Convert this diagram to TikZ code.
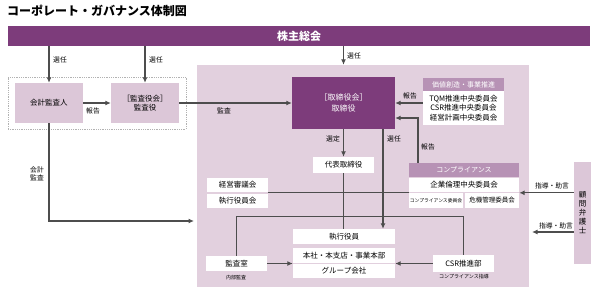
\documentclass[tikz,border=0pt]{standalone}
\usepackage{fontspec}
\usetikzlibrary{arrows.meta}
\setmainfont{Noto Sans CJK JP}
\definecolor{kabu}{RGB}{125,60,123}
\definecolor{usupl}{RGB}{226,208,222}
\definecolor{boxpl}{RGB}{220,199,216}
\definecolor{midpl}{RGB}{183,146,181}
\definecolor{yagi}{RGB}{77,77,77}
\begin{document}
\begin{tikzpicture}[x=1pt,y=-1pt]
	\tikzset{>={Latex[length=5.5pt,width=5pt]}}
	\tikzset{
		pbox/.style={fill=boxpl,inner sep=0pt,align=center,font=\fontsize{7.5}{9.5}\selectfont},
		wbox/.style={fill=white,inner sep=0pt,align=center,font=\fontsize{7.5}{9.5}\selectfont},
		hbox/.style={fill=midpl,inner sep=0pt,text=white,font=\fontsize{7}{8}\selectfont},
		dbox/.style={fill=kabu,inner sep=0pt,align=center,text=white,font=\fontsize{8}{10.5}\selectfont},
		lbl/.style={inner sep=0pt,font=\fontsize{6.8}{8.5}\selectfont,align=center},
		tiny/.style={inner sep=0pt,font=\fontsize{5}{6}\selectfont},
		arr/.style={->,draw=yagi,line width=1.1pt},
		ln/.style={draw=yagi,line width=1pt}
	}
	\useasboundingbox (0,0) rectangle (600,298);
	
	\node[anchor=west,inner sep=0pt,font=\bfseries\fontsize{12}{13}\selectfont] (title) at (7,11) {コーポレート・ガバナンス体制図};
	\node[fill=kabu,minimum width=582,minimum height=20,inner sep=0pt,text=white,font=\bfseries\fontsize{11}{12}\selectfont] (soukai) at (299,36) {株主総会};
	
	\node[fill=usupl,minimum width=332,minimum height=222,inner sep=0pt] (area) at (363,176) {};
	\node[draw=gray!60,densely dotted,line width=0.8pt,minimum width=178,minimum height=52,inner sep=0pt] (audit) at (97,103) {};
	
	\node[pbox,minimum width=68,minimum height=40] (kaikei) at (49,103) {会計監査人};
	\node[pbox,minimum width=68,minimum height=40] (kansa) at (145,103) {［監査役会］\\監査役};
	\node[dbox,minimum width=103,minimum height=52] (tori) at (343.5,103) {［取締役会］\\取締役};
	
	\node[hbox,minimum width=81,minimum height=13] (kachihead) at (463.5,84.5) {価値創造・事業推進};
	\node[wbox,minimum width=81,minimum height=34] (kachi) at (463.5,108) {TQM推進中央委員会\\CSR推進中央委員会\\経営計画中央委員会};
	
	\node[wbox,minimum width=61,minimum height=16] (daihyo) at (343.5,165) {代表取締役};
	\node[hbox,minimum width=110,minimum height=14] (comphead) at (464,170) {コンプライアンス};
	\node[wbox,minimum width=110,minimum height=14] (kigyo) at (464,185) {企業倫理中央委員会};
	\node[wbox,minimum width=54,minimum height=15,font=\fontsize{4.8}{6}\selectfont] (compiin) at (436,200.5) {コンプライアンス委員会};
	\node[wbox,minimum width=54,minimum height=15,font=\fontsize{6.5}{8}\selectfont] (kiki) at (492,200.5) {危機管理委員会};
	
	\node[wbox,minimum width=61,minimum height=14] (keiei) at (237.5,185) {経営審議会};
	\node[wbox,minimum width=61,minimum height=14] (shikkoukai) at (237.5,201) {執行役員会};
	
	\node[wbox,minimum width=102,minimum height=15] (shikkou) at (344,236.5) {執行役員};
	\node[wbox,minimum width=102,minimum height=15] (honsha) at (344,255.5) {本社・本支店・事業本部};
	\node[wbox,minimum width=102,minimum height=14] (group) at (344,271) {グループ会社};
	
	\node[wbox,minimum width=61,minimum height=15] (kansashitsu) at (236.5,263.5) {監査室};
	\node[tiny] (naibu) at (236,277.5) {内部監査};
	\node[wbox,minimum width=61,minimum height=17] (csr) at (463.5,263.5) {CSR推進部};
	\node[tiny] (shidou) at (464,277) {コンプライアンス指導};
	
	\node[pbox,minimum width=17,minimum height=102,font=\fontsize{7.5}{9}\selectfont] (komon) at (582.5,213) {顧\\問\\弁\\護\\士};
	
	\node[lbl,anchor=west] (sen1) at (53,60) {選任};
	\node[lbl,anchor=west] (sen2) at (149,60) {選任};
	\node[lbl,anchor=west] (sen3) at (347,56) {選任};
	\node[lbl] (hou1) at (93,111) {報告};
	\node[lbl] (kan1) at (224,111) {監査};
	\node[lbl] (hou2) at (410,96) {報告};
	\node[lbl] (hou3) at (428,147) {報告};
	\node[lbl] (sentei) at (333,139) {選定};
	\node[lbl] (sen4) at (394,139) {選任};
	\node[lbl] (kaikan) at (37,174) {会計\\監査};
	\node[lbl] (jo1) at (552,186) {指導・助言};
	\node[lbl] (jo2) at (556,226) {指導・助言};
	
	\coordinate (hk) at (418,118);
	\coordinate (sn) at (383,0);
	\coordinate (kb) at (532,232);
	\coordinate (ka) at (194,221);
	
	\draw[arr] (soukai.south -| kaikei.north) -- (kaikei.north);
	\draw[arr] (soukai.south -| kansa.north) -- (kansa.north);
	\draw[arr] (soukai.south -| tori.north) -- (area.north -| tori.north);
	\draw[arr] (kaikei) -- (kansa);
	\draw[arr] (kansa) -- (tori);
	\draw[arr] (kachi.west |- tori.east) -- (tori.east);
	\draw[arr] (comphead.north -| hk) |- (hk -| tori.east);
	\draw[arr] (tori.south) -- (daihyo.north);
	\draw[arr] (tori.south -| sn) -- (shikkou.north -| sn);
	\draw[ln] (daihyo.south) -- (daihyo.south |- shikkou.north);
	\draw[ln] (keiei.south east) -- (kigyo.south west);
	\draw[ln] (kansashitsu.north) -- ++(0,-39) -| (csr.north);
	\draw[arr] (kansashitsu.east) -- (kansashitsu.east -| honsha.west);
	\draw[arr] (csr.west) -- (csr.west -| honsha.east);
	\draw[arr] (komon.west |- kiki.north east) -- (kiki.north east);
	\draw[arr] (komon.west |- kb) -- (kb);
	\draw[arr] (kaikei.south) |- (ka);
	
\end{tikzpicture}
\end{document}
